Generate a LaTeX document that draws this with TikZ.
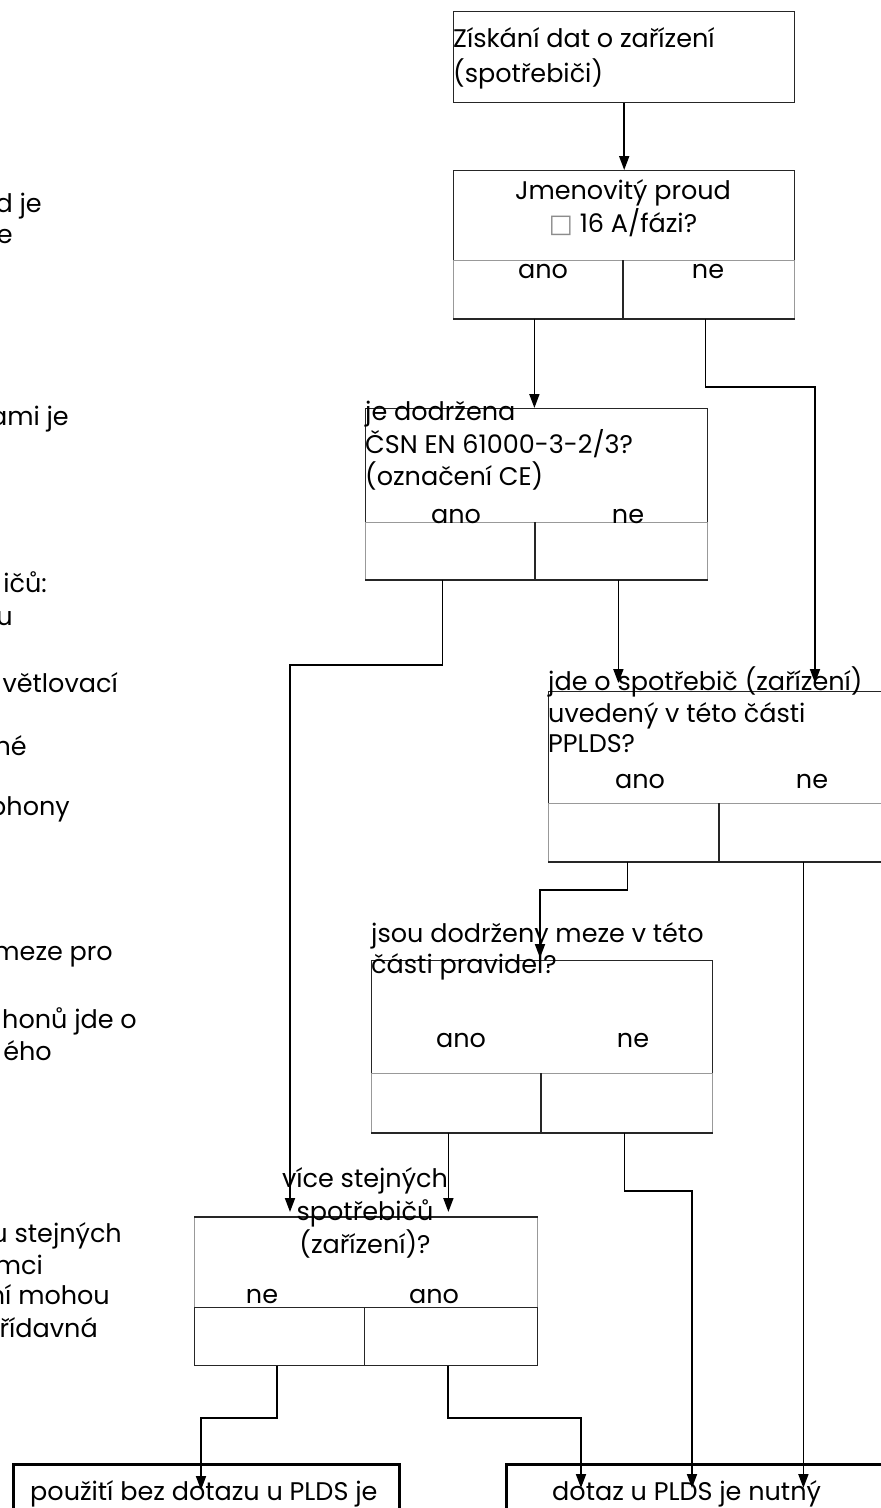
\documentclass[tikz,border=0pt]{standalone}
\usepackage{fontspec}
\setmainfont{Poppins}
\newfontfamily\symfont{DejaVu Sans}
\usetikzlibrary{arrows.meta}
\begin{document}
\begin{tikzpicture}[x=1pt,y=-1pt,
  txt/.style={inner sep=0pt, font=\fontsize{25.5}{30}\selectfont},
  box/.style={draw=black!85, line width=1.4pt, inner sep=0pt, anchor=north west},
  cell/.style={draw=black!40, line width=0.8pt, inner sep=0pt, anchor=north west},
  edgeline/.style={draw=black!85, line width=1.4pt},
  arr/.style={line width=1.8pt, -{Triangle[length=14pt,width=10pt]}},
  botbox/.style={draw=black, line width=2.6pt, inner sep=0pt, anchor=north west}]
\useasboundingbox (0,0) rectangle (881,1508);
\clip (0,0) rectangle (881,1508);
\fill[white] (0,0) rectangle (881,1508);

% ---------- boxes ----------
\node[box, minimum width=341pt, minimum height=91pt] (b1) at (453,11) {};

\node[box, minimum width=341pt, minimum height=90pt] (b2) at (453,170) {};
\node[cell, minimum width=169pt, minimum height=58pt] (b2l) at (453,260) {};
\node[cell, minimum width=172pt, minimum height=58pt] (b2r) at (622,260) {};
\draw[edgeline] (b2l.south west) -- (b2r.south east);
\draw[edgeline] (b2l.north east) -- (b2l.south east);

\node[box, minimum width=342pt, minimum height=114pt] (b3) at (365,408) {};
\node[cell, minimum width=169pt, minimum height=57pt] (b3l) at (365,522) {};
\node[cell, minimum width=173pt, minimum height=57pt] (b3r) at (534,522) {};
\draw[edgeline] (b3l.south west) -- (b3r.south east);
\draw[edgeline] (b3l.north east) -- (b3l.south east);

\node[box, minimum width=350pt, minimum height=112pt] (b4) at (548,691) {};
\node[cell, minimum width=170pt, minimum height=58pt] (b4l) at (548,803) {};
\node[cell, minimum width=180pt, minimum height=58pt] (b4r) at (718,803) {};
\draw[edgeline] (b4l.south west) -- (b4r.south east);
\draw[edgeline] (b4l.north east) -- (b4l.south east);

\node[box, minimum width=341pt, minimum height=113pt] (b6) at (371,960) {};
\node[cell, minimum width=169pt, minimum height=59pt] (b6l) at (371,1073) {};
\node[cell, minimum width=172pt, minimum height=59pt] (b6r) at (540,1073) {};
\draw[edgeline] (b6l.south west) -- (b6r.south east);
\draw[edgeline] (b6l.north east) -- (b6l.south east);

\node[cell, minimum width=343pt, minimum height=90pt] (b5) at (194,1217) {};
\draw[edgeline] (b5.north west) -- (b5.north east);
\node[box, minimum width=170pt, minimum height=58pt] (b5l) at (194,1307) {};
\node[box, minimum width=173pt, minimum height=58pt] (b5r) at (364,1307) {};

\node[botbox, minimum width=386pt, minimum height=80pt] (botL) at (12,1463) {};
\node[botbox, minimum width=400pt, minimum height=80pt] (botR) at (505,1463) {};

% ---------- box texts ----------
\node[txt, anchor=base west] at (453,47) {Získání dat o zařízení};
\node[txt, anchor=base west] at (453,82) {(spotřebiči)};

\node[txt, anchor=base] at (623,199) {Jmenovitý proud};
\node[txt, anchor=base] at (623,232) {{\symfont\color{black!45}□} 16 A/fázi?};
\node[txt, anchor=base] at (543,278) {ano};
\node[txt, anchor=base] at (708,278) {ne};

\node[txt, anchor=base west] at (365,420) {je dodržena};
\node[txt, anchor=base west] at (365,453) {ČSN EN 61000-3-2/3?};
\node[txt, anchor=base west] at (365,485) {(označení CE)};
\node[txt, anchor=base] at (456,523) {ano};
\node[txt, anchor=base] at (628,523) {ne};

\node[txt, anchor=base west] at (548,690) {jde o spotřebič (zařízení)};
\node[txt, anchor=base west] at (548,722) {uvedený v této části};
\node[txt, anchor=base west] at (548,752) {PPLDS?};
\node[txt, anchor=base] at (640,788) {ano};
\node[txt, anchor=base] at (812,788) {ne};

\node[txt, anchor=base west] at (371,942) {jsou dodrženy meze v této};
\node[txt, anchor=base west] at (371,973) {části pravidel?};
\node[txt, anchor=base] at (461,1047) {ano};
\node[txt, anchor=base] at (633,1047) {ne};

\node[txt, anchor=base] at (365,1187) {více stejných};
\node[txt, anchor=base] at (365,1220) {spotřebičů};
\node[txt, anchor=base] at (365,1253) {(zařízení)?};
\node[txt, anchor=base] at (262,1303) {ne};
\node[txt, anchor=base] at (434,1303) {ano};

\node[txt, anchor=base west] at (30,1500) {použití bez dotazu u PLDS je};
\node[txt, anchor=base west] at (552,1500) {dotaz u PLDS je nutný};

% ---------- cut-off texts at left edge ----------
\node[txt, anchor=base east] at (42,212) {d je};
\node[txt, anchor=base east] at (13,243) {e};
\node[txt, anchor=base east] at (69,425) {ami je};
\node[txt, anchor=base east] at (47,592) {ičů:};
\node[txt, anchor=base east] at (13,625) {u};
\node[txt, anchor=base east] at (118,692) {větlovací};
\node[txt, anchor=base east] at (27,755) {né};
\node[txt, anchor=base east] at (70,815) {phony};
\node[txt, anchor=base east] at (113,960) {meze pro};
\node[txt, anchor=base east] at (137,1028) {honů jde o};
\node[txt, anchor=base east] at (52,1060) {ého};
\node[txt, anchor=base east] at (122,1242) {u stejných};
\node[txt, anchor=base east] at (43,1274) {mci};
\node[txt, anchor=base east] at (110,1304) {ní mohou};
\node[txt, anchor=base east] at (98,1337) {řídavná};

% ---------- connectors ----------
\coordinate (k1) at (815,387);
\coordinate (k2) at (290,665);
\coordinate (k3) at (540,890);
\coordinate (k4) at (692,1191);
\coordinate (k5) at (201,1418);
\coordinate (k6) at (581,1418);

\draw[arr] (b1.south) -- (b2.north);
\draw[arr] ([xshift=-3.5pt]b2l.south) -- ([xshift=-3.5pt]b2l.south |- b3.north);
\draw[arr, shorten >=8pt] ([xshift=-3pt]b2r.south) |- (k1) -- (k1 |- b4.north);
\draw[arr, shorten >=5pt] ([xshift=-7.5pt]b3l.south) |- (k2) -- (k2 |- b5.north);
\draw[arr, shorten >=8pt] ([xshift=-2.5pt]b3r.south) -- ([xshift=-2.5pt]b3r.south |- b4.north);
\draw[arr, shorten >=2pt] ([xshift=-6pt]b4l.south) |- (k3) -- (k3 |- b6.north);
\draw[arr, shorten >=-25pt] ([xshift=-5pt]b4r.south) -- ([xshift=-5pt]b4r.south |- botR.north);
\draw[arr, shorten >=5pt] ([xshift=-7.5pt]b6l.south) -- ([xshift=-7.5pt]b6l.south |- b5.north);
\draw[arr, shorten >=-25pt] ([xshift=-2pt]b6r.south) |- (k4) -- (k4 |- botR.north);
\draw[arr, shorten >=-27pt] ([xshift=-3pt]b5l.south) |- (k5) -- (k5 |- botL.north);
\draw[arr, shorten >=-25pt] ([xshift=-3.5pt]b5r.south) |- (k6) -- (k6 |- botR.north);
\end{tikzpicture}
\end{document}
